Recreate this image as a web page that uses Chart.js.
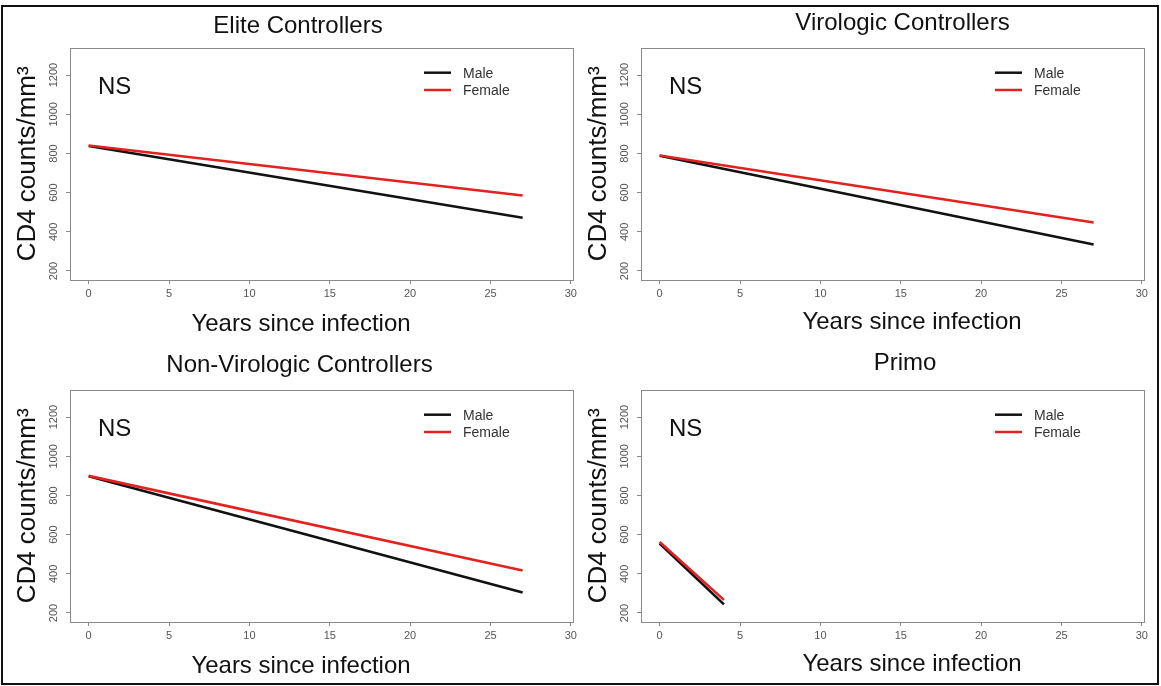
<!DOCTYPE html>
<html>
<head>
<meta charset="utf-8">
<title>CD4 counts by sex</title>
<script src="https://cdn.jsdelivr.net/npm/chart.js@4.4.1/dist/chart.umd.min.js"></script>
<style>
	html, body { margin: 0; padding: 0; background: #fff; }
	body { width: 1161px; height: 686px; position: relative; overflow: hidden; }
	.frame { position: absolute; left: 1px; top: 5px; width: 1158px; height: 680px; border: 2px solid #111; box-sizing: border-box; }
	canvas { position: absolute; }
</style>
</head>
<body>
<div class="frame"></div>
<canvas id="chartElite" width="580" height="343" style="left:0;top:0"></canvas>
<canvas id="chartViro" width="580" height="343" style="left:571px;top:0"></canvas>
<canvas id="chartNonViro" width="580" height="343" style="left:0;top:342px"></canvas>
<canvas id="chartPrimo" width="580" height="343" style="left:571px;top:342px"></canvas>
<script>
// Data (fitted lines, start and end only)
var yearsFollowed = [0, 27];
var yearsPrimo = [0, 4];

var eliteMale = [838, 472];
var eliteFemale = [841, 585];
var viroMale = [788, 335];
var viroFemale = [790, 448];
var nonViroMale = [898, 305];
var nonViroFemale = [900, 417];
var primoMale = [555, 244];
var primoFemale = [562, 267];

var seriesLabels = ['Male', 'Female'];
var xTickValues = [0, 5, 10, 15, 20, 25, 30];
var yTickValues = [200, 400, 600, 800, 1000, 1200];

var xTitle = 'Years since infection';
var yTitle = 'CD4 counts/mm³';
var noteText = 'NS';

(function() {
	'use strict';

	var colors = {
		male : "#111111",
		female : "#e3211f",
		axis : "#8a8a8a",
		tick : "#555555",
		text : "#111111",
		legendText : "#333333"
	};

	var fontFamily = "'Liberation Sans', Arial, Helvetica, sans-serif";
	Chart.defaults.font.family = fontFamily;

	// titles, NS note, legend and the box round the plot
	var panelDeco = {
		id : 'panelDeco',
		afterDraw : function(chart, args, opts) {
			var ctx = chart.ctx;
			var area = chart.chartArea;
			ctx.save();

			ctx.strokeStyle = colors.axis;
			ctx.lineWidth = 1;
			ctx.strokeRect(Math.round(area.left) + 0.5, Math.round(area.top) + 0.5,
					Math.round(area.right - area.left), Math.round(area.bottom - area.top));

			ctx.fillStyle = colors.text;
			ctx.font = '24px ' + fontFamily;
			ctx.textBaseline = 'alphabetic';
			ctx.textAlign = 'center';
			ctx.fillText(opts.title, opts.titleX, opts.titleY);
			ctx.fillText(xTitle, opts.xTitleX, opts.xTitleY);

			ctx.textAlign = 'left';
			ctx.fillText(noteText, area.left + 28, area.top + 46.5);

			// legend
			ctx.font = '14px ' + fontFamily;
			ctx.textBaseline = 'middle';
			chart.data.datasets.forEach(function(ds, i) {
				var y = area.top + 25 + i * 17.3;
				ctx.strokeStyle = ds.borderColor;
				ctx.lineWidth = 2.5;
				ctx.beginPath();
				ctx.moveTo(area.left + 354, y);
				ctx.lineTo(area.left + 381, y);
				ctx.stroke();
				ctx.fillStyle = colors.legendText;
				ctx.fillText(ds.label, area.left + 393, y + 1);
			});

			ctx.restore();
		}
	};
	Chart.register(panelDeco);

	function toPoints(xs, ys) {
		return xs.map(function(x, i) {
			return { x : x, y : ys[i] };
		});
	}

	function plainLabel(value) {
		return String(value);
	}

	function makePanel(id, deco, xs, male, female) {
		new Chart(document.getElementById(id), {
			type : 'line',
			data : {
				datasets : [ {
					label : seriesLabels[0],
					data : toPoints(xs, male),
					borderColor : colors.male,
					borderWidth : 2.6,
					pointRadius : 0,
					order : 1
				}, {
					label : seriesLabels[1],
					data : toPoints(xs, female),
					borderColor : colors.female,
					borderWidth : 2.6,
					pointRadius : 0,
					order : 0
				} ]
			},
			options : {
				responsive : false,
				animation : false,
				events : [],
				layout : {
					padding : { top : 47.7, right : 4, left : 0, bottom : 0 }
				},
				plugins : {
					legend : { display : false },
					tooltip : { enabled : false },
					panelDeco : deco
				},
				scales : {
					x : {
						type : 'linear',
						min : -1.16,
						max : 30.14,
						afterFit : function(s) { s.height = 63; },
						afterBuildTicks : function(s) {
							s.ticks = xTickValues.map(function(v) { return { value : v }; });
						},
						border : { display : false },
						grid : {
							drawOnChartArea : false,
							drawTicks : true,
							tickLength : 4,
							color : colors.axis
						},
						ticks : {
							color : colors.tick,
							font : { size : 11 },
							padding : 3,
							maxRotation : 0,
							autoSkip : false,
							callback : plainLabel
						}
					},
					y : {
						min : 154,
						max : 1340,
						afterFit : function(s) { s.width = 70; },
						afterBuildTicks : function(s) {
							s.ticks = yTickValues.map(function(v) { return { value : v }; });
						},
						border : { display : false },
						grid : {
							drawOnChartArea : false,
							drawTicks : true,
							tickLength : 4,
							color : colors.axis
						},
						ticks : {
							color : colors.tick,
							font : { size : 11 },
							padding : 0,
							minRotation : 90,
							maxRotation : 90,
							crossAlign : 'center',
							autoSkip : false,
							callback : plainLabel
						},
						title : {
							display : true,
							text : yTitle,
							color : colors.text,
							font : { size : 26 },
							padding : { top : 12, bottom : 0 }
						}
					}
				}
			}
		});
	}

	makePanel('chartElite', { title : 'Elite Controllers', titleX : 298, titleY : 33, xTitleX : 301, xTitleY : 331 },
			yearsFollowed, eliteMale, eliteFemale);
	makePanel('chartViro', { title : 'Virologic Controllers', titleX : 331.5, titleY : 30, xTitleX : 341, xTitleY : 329 },
			yearsFollowed, viroMale, viroFemale);
	makePanel('chartNonViro', { title : 'Non-Virologic Controllers', titleX : 299.5, titleY : 30, xTitleX : 301, xTitleY : 331 },
			yearsFollowed, nonViroMale, nonViroFemale);
	makePanel('chartPrimo', { title : 'Primo', titleX : 334, titleY : 28, xTitleX : 341, xTitleY : 329 },
			yearsPrimo, primoMale, primoFemale);
})();
</script>
</body>
</html>
